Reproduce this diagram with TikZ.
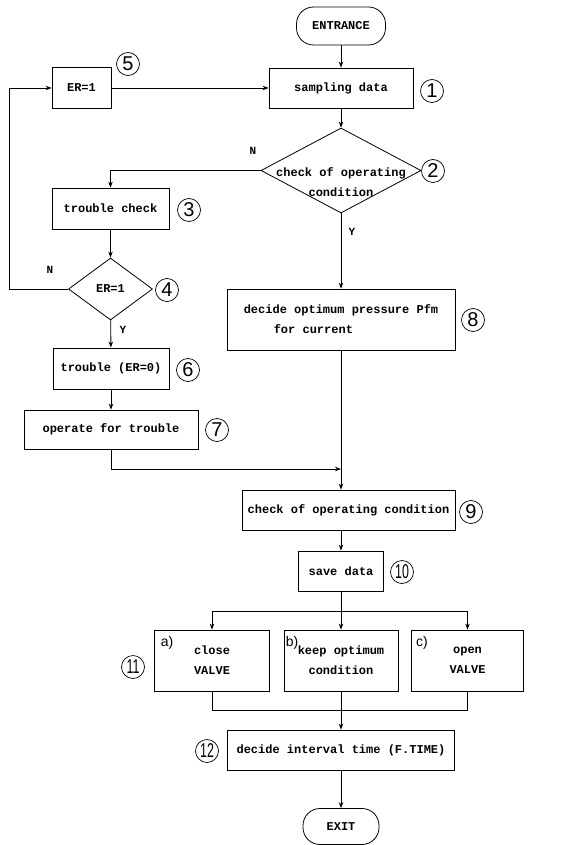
\documentclass[tikz,border=0pt]{standalone}
\usepackage{fontspec}
\usepackage{graphicx}
\setmainfont{Liberation Sans}
\newfontfamily\flowmono{Liberation Mono}
\usetikzlibrary{shapes.geometric,arrows.meta}

\begin{document}
\begin{tikzpicture}[x=1pt,y=-1pt,
  lbl/.style={inner sep=0pt, align=center,
    font=\flowmono\bfseries\fontsize{12}{20}\selectfont},
  box/.style={lbl, draw, rectangle, line width=0.8pt},
  term/.style={box, rounded corners=17pt},
  dia/.style={lbl, draw, diamond, line width=0.8pt},
  num/.style={circle, draw, line width=0.7pt, minimum size=23pt, inner sep=0pt,
    font=\fontsize{20}{20}\selectfont},
  tag/.style={inner sep=0pt, font=\fontsize{14}{14}\selectfont},
  yn/.style={inner sep=0pt, font=\flowmono\bfseries\fontsize{11}{11}\selectfont},
  line/.style={line width=0.9pt},
  flow/.style={line, -{Stealth[length=6pt,width=4.5pt]}}]

\useasboundingbox (0,0) rectangle (567,845);

% --- main column ---
\node[term, minimum width=89pt, minimum height=38pt] (entr) at (341,26) {ENTRANCE};
\node[box, minimum width=144pt, minimum height=40pt] (s1) at (341,88) {sampling data};
\node[dia, minimum width=160pt, minimum height=85pt] (d2) at (341,170.5) {};
\node[lbl] (d2t) at (341,182) {check of operating\\condition};
\node[box, minimum width=228pt, minimum height=61pt, align=left] (b8) at (341,319.5)
  {decide optimum pressure Pfm\\\hspace*{30pt}for current};
\node[box, minimum width=213pt, minimum height=40pt] (b9) at (348.5,510) {check of operating condition};
\node[box, minimum width=85pt, minimum height=40pt] (b10) at (341,571) {save data};
\node[box, minimum width=115pt, minimum height=61pt] (a11) at (212,660.5) {close\\VALVE};
\node[box, minimum width=114pt, minimum height=61pt] (b11) at (341,660.5) {keep optimum\\condition};
\node[box, minimum width=112pt, minimum height=61pt] (c11) at (467.5,660.5) {open\\VALVE};
\node[box, minimum width=227pt, minimum height=40pt] (b12) at (341,750) {decide interval time (F.TIME)};
\node[term, minimum width=76pt, minimum height=36pt] (exit) at (341,826.5) {EXIT};

% --- trouble branch ---
\node[box, minimum width=59pt, minimum height=41pt] (e5) at (81.5,88) {ER=1};
\node[box, minimum width=117pt, minimum height=41pt] (c3) at (110.5,208.5) {trouble check};
\node[dia, minimum width=84pt, minimum height=62pt] (d4) at (110.5,289) {ER=1};
\node[box, minimum width=116pt, minimum height=41pt] (t6) at (111,368.5) {trouble (ER=0)};
\node[box, minimum width=174pt, minimum height=39pt] (o7) at (111,429.5) {operate for trouble};

% --- branch labels ---
\node[yn] (n2) at (253,151) {N};
\node[yn] (y2) at (352,232) {Y};
\node[yn] (n4) at (50,270) {N};
\node[yn] (y4) at (123,330) {Y};
\node[tag] (ta) at (167,643) {a)};
\node[tag] (tb) at (292,643) {b)};
\node[tag] (tc) at (422,643) {c)};

% --- step numbers ---
\node[num] (k1) at (432,91) {1};
\node[num] (k2) at (433,171) {2};
\node[num] (k3) at (189,210) {3};
\node[num] (k4) at (167,290) {4};
\node[num] (k5) at (128,64) {5};
\node[num] (k6) at (188,370) {6};
\node[num] (k7) at (217,430) {7};
\node[num] (k8) at (473,320) {8};
\node[num] (k9) at (471,512) {9};
\node[num] (k10) at (402,572) {\scalebox{0.62}[1]{10}};
\node[num] (k11) at (133,667) {\scalebox{0.62}[1]{11}};
\node[num] (k12) at (207,751) {\scalebox{0.62}[1]{12}};

% --- helper points ---
\coordinate (lp) at (9,289);
\coordinate (jn) at (341,469);
\coordinate (sp) at (341,611);
\coordinate (mg) at (341,710);

% --- connectors ---
\draw[flow] (entr) -- (s1);
\draw[flow] (e5) -- (s1);
\draw[flow] (s1) -- (d2);
\draw[flow] (d2.west) -| (c3.north);
\draw[flow] (c3) -- (d4);
\draw[flow] (d4.west) -- (lp) |- (e5.west);
\draw[flow] (d4) -- (t6);
\draw[flow] (t6) -- (o7);
\draw[flow] (d2.south) -- (b8.north);
\draw[flow] (o7.south) |- (jn);
\draw[flow] (b8.south) -- (b8.south |- b9.north);
\draw[flow] (b10.north |- b9.south) -- (b10.north);
\draw[flow] (b10) -- (b11);
\draw[flow] (sp) -| (a11.north);
\draw[flow] (sp) -| (c11.north);
\draw[line] (a11.south) |- (mg);
\draw[line] (c11.south) |- (mg);
\draw[flow] (b11) -- (b12);
\draw[flow] (b12) -- (exit);
\end{tikzpicture}
\end{document}
